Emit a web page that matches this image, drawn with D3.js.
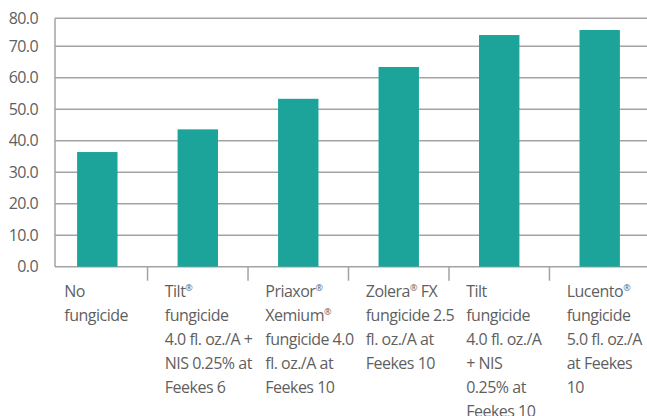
<!DOCTYPE html>
<html>
<head>
<meta charset="utf-8">
<script src="https://cdn.jsdelivr.net/npm/d3@7"></script>
<style>
  html, body { margin: 0; padding: 0; background: #fff; }
  svg { display: block; }
  text { font-family: "Open Sans", "Noto Sans", sans-serif; fill: #5f5f5f; }
</style>
</head>
<body>
<svg id="chart" width="647" height="416"></svg>
<script>
const categories = ["No fungicide", "Tilt 4.0", "Priaxor Xemium 4.0", "Zolera FX 2.5", "Tilt 4.0 + NIS", "Lucento 5.0"];
const labelLines = [
  ["No", "fungicide"],
  ["Tilt®", "fungicide", "4.0 fl. oz./A +", "NIS 0.25% at", "Feekes 6"],
  ["Priaxor®", "Xemium®", "fungicide 4.0", "fl. oz./A at", "Feekes 10"],
  ["Zolera® FX", "fungicide 2.5", "fl. oz./A at", "Feekes 10"],
  ["Tilt", "fungicide", "4.0 fl. oz./A", "+ NIS", "0.25% at", "Feekes 10"],
  ["Lucento®", "fungicide", "5.0 fl. oz./A", "at Feekes", "10"]
];
const values = [36.4, 43.6, 53.3, 63.4, 74.0, 75.8];
const yTicks = [0, 10, 20, 30, 40, 50, 60, 70, 80];

const svg = d3.select("#chart");
const W = 647;
const left = 55;

const y = d3.scaleLinear().domain([0, 70, 80]).range([266.7, 46.2, 18.3]);
const x = d3.scaleBand().domain(categories).range([left, 642]).paddingInner(0.598).paddingOuter(0.22);

// gridlines
svg.append("g").selectAll("line").data(yTicks).join("line")
  .attr("x1", left).attr("x2", W)
  .attr("y1", d => y(d)).attr("y2", d => y(d))
  .attr("stroke", "#a3a3a3").attr("stroke-width", 1.5);

// left axis line
svg.append("line").attr("x1", left).attr("x2", left)
  .attr("y1", y(80)).attr("y2", y(0))
  .attr("stroke", "#a3a3a3").attr("stroke-width", 1.5);

// y tick labels
svg.append("g").selectAll("text").data(yTicks).join("text")
  .attr("x", 38).attr("y", d => y(d) + 5.5)
  .attr("text-anchor", "end").attr("font-size", 16).attr("font-weight", 400)
  .attr("letter-spacing", -0.6)
  .text(d => d.toFixed(1));

// bars
svg.append("g").selectAll("rect").data(values).join("rect")
  .attr("x", (d, i) => x(categories[i]))
  .attr("width", x.bandwidth())
  .attr("y", d => y(d))
  .attr("height", d => y(0) - y(d))
  .attr("fill", "#1ca39a");

// x separators (category boundaries)
const gap = x.step() * x.paddingInner();
svg.append("g").selectAll("line").data(categories.slice(1)).join("line")
  .attr("x1", d => x(d) - gap / 2).attr("x2", d => x(d) - gap / 2)
  .attr("y1", y(0)).attr("y2", y(0) + 14)
  .attr("stroke", "#a3a3a3").attr("stroke-width", 1.5);

// x labels
const lab = svg.append("g").selectAll("text").data(categories).join("text")
  .attr("font-size", 16).attr("font-weight", 400)
  .attr("letter-spacing", -0.5);
lab.each(function(d, i) {
  const t = d3.select(this);
  const lx = x(d) + x.bandwidth() / 2 - 33;
  labelLines[i].forEach((ln, j) => {
    const parts = ln.split("®");
    const first = t.append("tspan").attr("x", lx).attr("y", 297 + j * 24).text(parts[0]);
    for (let k = 1; k < parts.length; k++) {
      t.append("tspan").attr("font-size", 9).attr("dy", -6).text("®");
      t.append("tspan").attr("dy", 6).text(parts[k]);
    }
  });
});
</script>
</body>
</html>
